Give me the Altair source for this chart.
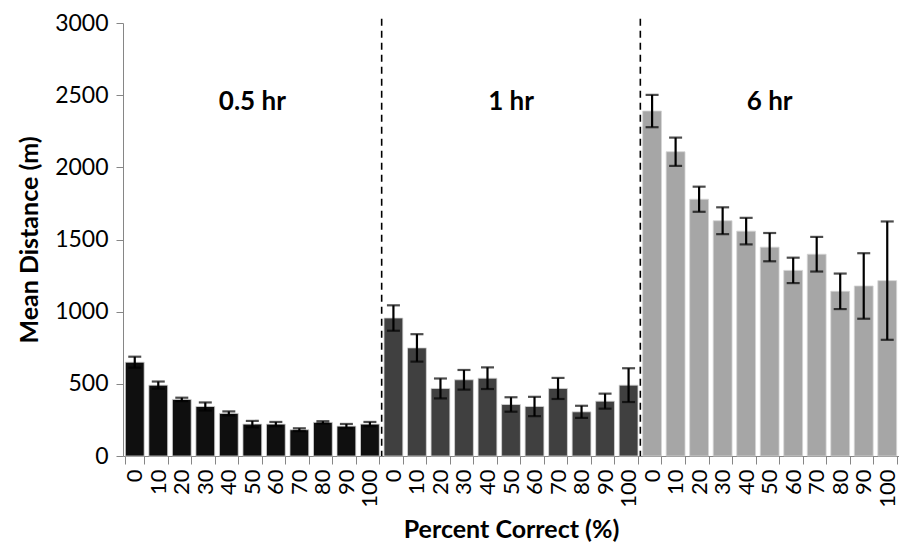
import altair as alt
import pandas as pd

groups = ["0.5 hr", "1 hr", "6 hr"]
percent = ["0", "10", "20", "30", "40", "50", "60", "70", "80", "90", "100"]
colors = ["#0f0f0f", "#404040", "#a6a6a6"]

mean_05 = [650, 491, 392, 343, 295, 221, 221, 182, 233, 207, 221]
err_05 = [38, 25, 12, 28, 14, 22, 15, 10, 8, 15, 15]
mean_1 = [956, 749, 468, 528, 539, 357, 343, 468, 306, 380, 491]
err_1 = [88, 95, 69, 68, 75, 50, 67, 73, 42, 52, 117]
mean_6 = [2390, 2108, 1779, 1630, 1558, 1447, 1286, 1398, 1141, 1178, 1215]
err_6 = [112, 98, 87, 93, 92, 98, 88, 120, 123, 227, 410]

label_y = 2450
y_ticks = [0, 500, 1000, 1500, 2000, 2500, 3000]

means = [mean_05, mean_1, mean_6]
errs = [err_05, err_1, err_6]

rows = []
keys = []
for g, m, e in zip(groups, means, errs):
    for p, v, s in zip(percent, m, e):
        k = f"{g}|{p}"
        keys.append(k)
        rows.append({"key": k, "group": g, "pct": p, "mean": v,
                     "lo": v - s, "hi": v + s})
df = pd.DataFrame(rows)

lab_df = pd.DataFrame({"key": [f"{g}|50" for g in groups], "group": groups,
                       "y": [label_y] * 3})
sep_df = pd.DataFrame({"key": [f"{g}|0" for g in groups[1:]],
                       "top": [3030, 3030], "bot": [0, 0]})

W, H = 776, 433
font = "Lato"

x_enc = alt.X("key:N", sort=keys,
              scale=alt.Scale(paddingInner=0.2, paddingOuter=0.1),
              axis=alt.Axis(title="Percent Correct (%)",
                            labelExpr="split(datum.value, '|')[1]",
                            labelAngle=-90, tickBand="extent",
                            labelFontSize=22, titleFontSize=25,
                            titleFontWeight="bold", labelColor="black",
                            titleColor="black", domainColor="#868686",
                            tickColor="#868686", tickSize=8,
                            labelPadding=5, titlePadding=10))

y_scale = alt.Scale(domain=[0, 3000])

bars = alt.Chart(df).mark_bar(stroke="#d4d4d4", strokeWidth=0.8).encode(
    x=x_enc,
    y=alt.Y("mean:Q", scale=y_scale,
            axis=alt.Axis(title="Mean Distance (m)", values=y_ticks,
                          format="d", grid=False, labelFontSize=23,
                          titleFontSize=25,
                          titleFontWeight="bold", labelColor="black",
                          titleColor="black", domainColor="#868686",
                          tickColor="#868686", tickSize=7,
                          labelPadding=8, titlePadding=12)),
    color=alt.Color("group:N", scale=alt.Scale(domain=groups, range=colors),
                    legend=None),
)

err_rule = alt.Chart(df).mark_rule(color="black", strokeWidth=2.2).encode(
    x=alt.X("key:N", sort=keys), y="lo:Q", y2="hi:Q")
cap_lo = alt.Chart(df).mark_tick(color="black", thickness=2.2, size=13,
                                 orient="horizontal").encode(
    x=alt.X("key:N", sort=keys), y="lo:Q")
cap_hi = alt.Chart(df).mark_tick(color="black", thickness=2.2, size=13,
                                 orient="horizontal").encode(
    x=alt.X("key:N", sort=keys), y="hi:Q")

seps = alt.Chart(sep_df).mark_rule(color="black", strokeWidth=1.6,
                                   strokeDash=[7, 5], xOffset=-2.35,
                                   clip=False).encode(
    x=alt.X("key:N", sort=keys, bandPosition=0), y="top:Q", y2="bot:Q")

labels = alt.Chart(lab_df).mark_text(fontSize=26, fontWeight="bold",
                                     font=font, color="black").encode(
    x=alt.X("key:N", sort=keys), y="y:Q", text="group:N")

chart = alt.layer(bars, err_rule, cap_lo, cap_hi, seps, labels).properties(
    width=W, height=H, padding={"left": 9, "top": 4, "right": 0, "bottom": 0}
).configure(font=font).configure_view(stroke=None).configure_axis(
    labelFont=font, titleFont=font)

chart.save("out.html", embed_options={"renderer": "svg", "actions": False})
